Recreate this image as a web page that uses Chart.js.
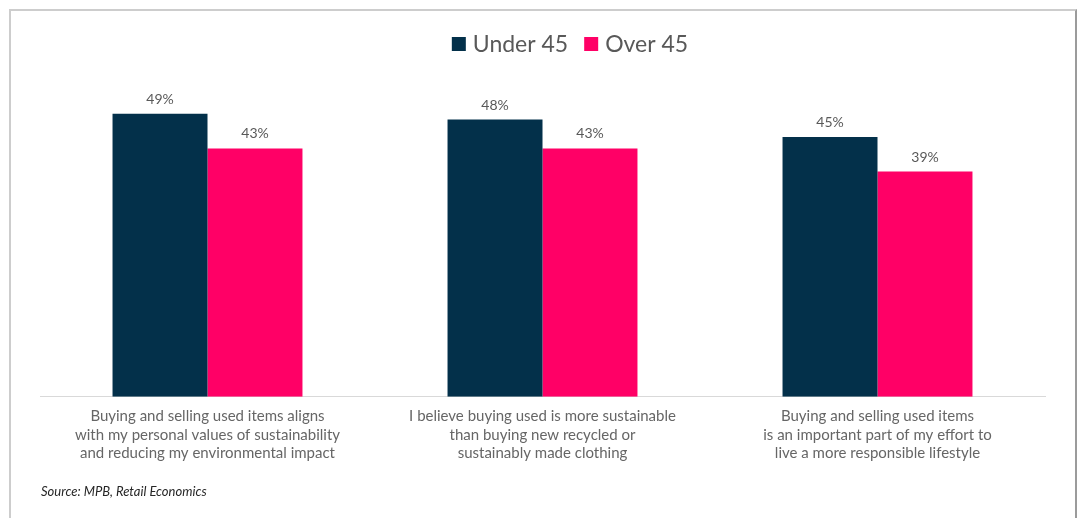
<!DOCTYPE html>
<html>
<head>
<meta charset="utf-8">
<script src="https://cdn.jsdelivr.net/npm/chart.js@4/dist/chart.umd.min.js"></script>
<style>
  html, body { margin: 0; padding: 0; background: #fff; }
  #wrap { position: relative; width: 1077px; height: 518px; overflow: hidden; }
  #frame { position: absolute; left: 9px; top: 9px; width: 1064px; height: 540px;
           border-top: 2px solid #cdcdcd; border-left: 2px solid #cdcdcd; border-right: 2px solid #9b9b9b; }
  #cv { position: absolute; left: 0; top: 0; }
  #source { position: absolute; left: 41px; top: 483px; font-family: Lato, "Open Sans", sans-serif;
            font-style: italic; font-size: 13px; line-height: 16px; color: #262626; }
</style>
</head>
<body>
<div id="wrap">
  <div id="frame"></div>
  <canvas id="cv" width="1077" height="518"></canvas>
  <div id="source">Source: MPB, Retail Economics</div>
</div>
<script>
const categories = [
  ["Buying and selling used items aligns", "with my personal values of sustainability", "and reducing my environmental impact"],
  ["I believe buying used is more sustainable", "than buying new recycled or", "sustainably made clothing"],
  ["Buying and selling used items", "is an important part of my effort to", "live a more responsible lifestyle"]
];
const seriesNames = ["Under 45", "Over 45"];
const under45 = [49, 48, 45];
const over45 = [43, 43, 39];

const FONT = 'Lato, "Open Sans", sans-serif';

const valueLabels = {
  id: 'valueLabels',
  afterDatasetsDraw(chart) {
    const ctx = chart.ctx;
    ctx.save();
    ctx.font = '14px ' + FONT;
    ctx.fillStyle = '#595959';
    ctx.textAlign = 'center';
    ctx.textBaseline = 'alphabetic';
    chart.data.datasets.forEach((ds, i) => {
      const meta = chart.getDatasetMeta(i);
      meta.data.forEach((bar, j) => {
        ctx.fillText(ds.data[j] + '%', bar.x, bar.y - 10);
      });
    });
    ctx.restore();
  }
};

const customLegend = {
  id: 'customLegend',
  afterDraw(chart) {
    const ctx = chart.ctx;
    ctx.save();
    ctx.font = '23px ' + FONT;
    ctx.textBaseline = 'middle';
    ctx.textAlign = 'left';
    const box = 14, gapIn = 7, gapOut = 16, cx = 570, cy = 44;
    const items = chart.data.datasets.map(ds => ({ text: ds.label, color: ds.backgroundColor, w: ctx.measureText(ds.label).width }));
    let total = 0;
    items.forEach((it, i) => { total += box + gapIn + it.w + (i < items.length - 1 ? gapOut : 0); });
    let x = cx - total / 2;
    items.forEach(it => {
      ctx.fillStyle = it.color;
      ctx.fillRect(x, cy - box / 2, box, box);
      x += box + gapIn;
      ctx.fillStyle = '#595959';
      ctx.fillText(it.text, x, cy + 1);
      x += it.w + gapOut;
    });
    ctx.restore();
  }
};

new Chart(document.getElementById('cv'), {
  type: 'bar',
  data: {
    labels: categories,
    datasets: [
      { label: seriesNames[0], data: under45, backgroundColor: '#03304A' },
      { label: seriesNames[1], data: over45, backgroundColor: '#FF0066' }
    ]
  },
  options: {
    responsive: false,
    animation: false,
    layout: { padding: { left: 40, right: 32, top: 63, bottom: 45 } },
    datasets: { bar: { categoryPercentage: 0.567, barPercentage: 1.0 } },
    plugins: {
      legend: { display: false },
      tooltip: { enabled: false }
    },
    scales: {
      x: {
        grid: { display: false, drawTicks: false },
        border: { display: true, color: '#d9d9d9', width: 1 },
        ticks: {
          color: '#666666',
          font: { family: FONT, size: 15, lineHeight: 1.25 },
          padding: 10,
          maxRotation: 0, autoSkip: false
        }
      },
      y: {
        display: false,
        min: 0, max: 57.8
      }
    }
  },
  plugins: [valueLabels, customLegend]
});
</script>
</body>
</html>
